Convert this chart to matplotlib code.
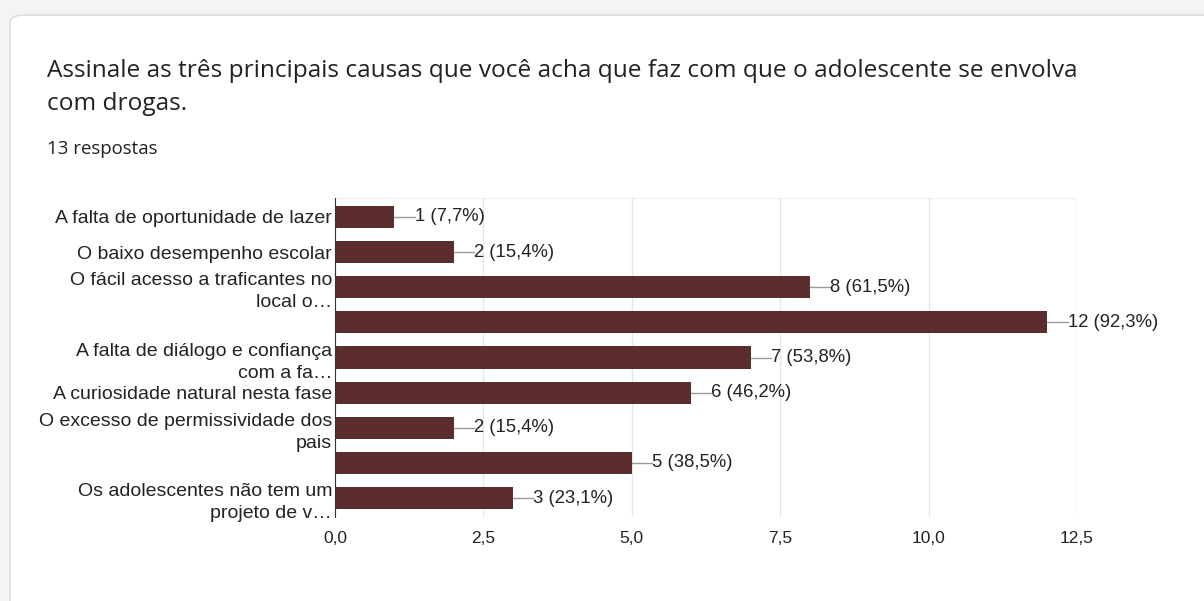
import matplotlib.pyplot as plt
from matplotlib.patches import FancyBboxPatch

# dados do grafico
causas = ["A falta de oportunidade de lazer",
          "O baixo desempenho escolar",
          "O fácil acesso a traficantes no\nlocal o…",
          "",
          "A falta de diálogo e confiança\ncom a fa…",
          "A curiosidade natural nesta fase",
          "O excesso de permissividade dos\npais",
          "",
          "Os adolescentes não tem um\nprojeto de v…"]
votos = [1, 2, 8, 12, 7, 6, 2, 5, 3]
pct = ["7,7%", "15,4%", "61,5%", "92,3%", "53,8%", "46,2%", "15,4%", "38,5%", "23,1%"]
xticks = [0, 2.5, 5, 7.5, 10, 12.5]
xticklabels = ["0,0", "2,5", "5,0", "7,5", "10,0", "12,5"]

W, H = 1204, 601
fig = plt.figure(figsize=(W / 100, H / 100), dpi=100)
fig.patch.set_facecolor("#f4f4f4")

# cartao branco
card = FancyBboxPatch((10 / W, -0.1), 1.2, 1 - 15 / H + 0.1,
                      boxstyle="round,pad=0,rounding_size=0.012",
                      transform=fig.transFigure, facecolor="white",
                      edgecolor="#dadce0", linewidth=1.2, zorder=-5)
fig.patches.append(card)

fig.text(47 / W, 1 - 71 / H, "Assinale as três principais causas que você acha que faz com que o adolescente se envolva",
         fontsize=17.6, family="Open Sans", color="#202124", va="center")
fig.text(47 / W, 1 - 104 / H, "com drogas.",
         fontsize=17.6, family="Open Sans", color="#202124", va="center")
fig.text(47 / W, 1 - 149 / H, "13 respostas",
         fontsize=13.4, family="Open Sans", color="#202124", va="center")

ax = fig.add_axes([335 / W, 1 - 517 / H, (1077 - 335) / W, (517 - 198) / H])
ax.set_facecolor("none")
y = list(range(len(votos)))
ax.barh(y, votos, height=0.63, color="#5c2d2d", zorder=3)
ax.set_ylim(8.54, -0.54)
ax.set_xlim(0, 12.5)
ax.set_xticks(xticks)
ax.set_xticklabels(xticklabels, family="Liberation Sans", fontsize=12.5, color="#222222")
ax.set_yticks(y)
ax.set_yticklabels(causas, family="Liberation Sans", fontsize=14, color="#222222",
                   linespacing=1.4)
ax.tick_params(length=0)
ax.tick_params(axis="x", pad=10)
ax.tick_params(axis="y", pad=2)
ax.grid(axis="x", color="#e6e6e6", linewidth=1, zorder=0)
for s in ["top", "right", "bottom"]:
    ax.spines[s].set_visible(False)
ax.spines["left"].set_color("#333333")
ax.spines["left"].set_zorder(4)
ax.axhline(-0.54, color="#f0f0f0", linewidth=1, zorder=0)

for yi, v, p in zip(y, votos, pct):
    ax.plot([v, v + 0.34], [yi, yi], color="#999999", linewidth=1, zorder=3, clip_on=False)
    ax.text(v + 0.34, yi, f"{v} ({p})", va="center", ha="left",
            family="Liberation Sans", fontsize=13.3, color="#222222")

fig.savefig("out.png", dpi=100, facecolor=fig.get_facecolor())
